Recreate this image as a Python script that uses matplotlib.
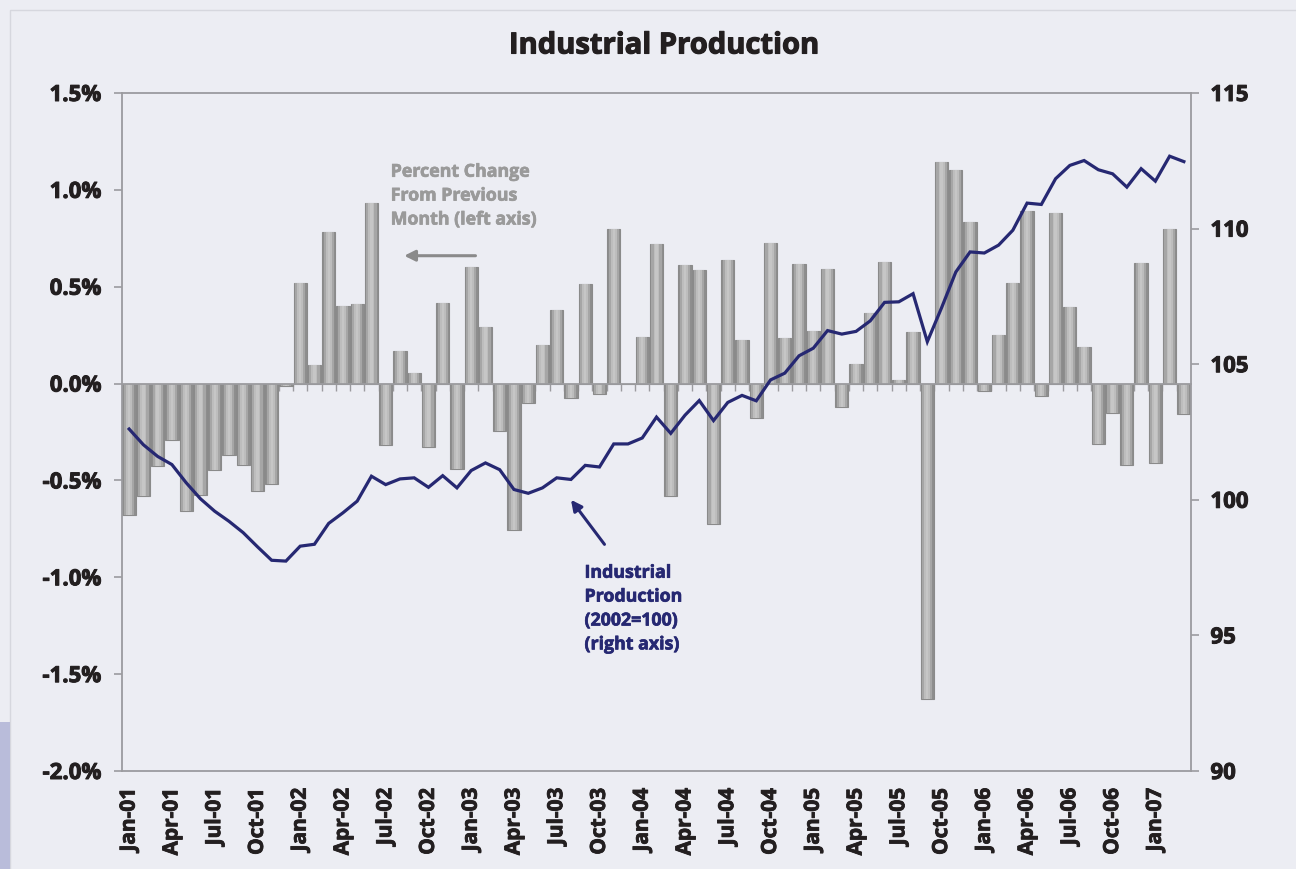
import matplotlib
matplotlib.use('Agg')
import matplotlib.pyplot as plt
import matplotlib.patheffects as pe
import numpy as np
import pandas as pd
from matplotlib.patches import Rectangle

# ---------------- data ----------------
months = pd.date_range('2001-01-01', periods=75, freq='MS')

pct_change = [
    -0.68, -0.58, -0.425, -0.29, -0.66, -0.575, -0.445, -0.37, -0.42, -0.557, -0.52, -0.01,   # 2001
    0.52, 0.098, 0.78, 0.40, 0.41, 0.93, -0.317, 0.167, 0.057, -0.326, 0.414, -0.44,        # 2002
    0.60, 0.294, -0.243, -0.755, -0.10, 0.20, 0.38, -0.072, 0.514, -0.055, 0.80, 0.0,       # 2003
    0.24, 0.722, -0.579, 0.611, 0.587, -0.723, 0.64, 0.224, -0.177, 0.727, 0.234, 0.619,    # 2004
    0.272, 0.594, -0.122, 0.10, 0.365, 0.628, 0.02, 0.265, -1.627, 1.145, 1.104, 0.832,     # 2005
    -0.04, 0.252, 0.52, 0.89, -0.065, 0.881, 0.395, 0.188, -0.313, -0.154, -0.421, 0.625,   # 2006
    -0.411, 0.796, -0.159,                                                                  # 2007
]

ip_index = [
    102.61, 102.03, 101.60, 101.30, 100.63, 100.04, 99.58, 99.21, 98.79, 98.27, 97.77, 97.74,
    98.29, 98.36, 99.13, 99.52, 99.95, 100.87, 100.56, 100.77, 100.81, 100.46, 100.89, 100.44,
    101.08, 101.36, 101.11, 100.38, 100.24, 100.44, 100.81, 100.75, 101.27, 101.21, 102.06, 102.06,
    102.28, 103.05, 102.45, 103.12, 103.66, 102.92, 103.59, 103.85, 103.65, 104.42, 104.67, 105.31,
    105.59, 106.24, 106.11, 106.21, 106.60, 107.28, 107.30, 107.60, 105.83, 107.08, 108.40, 109.14,
    109.10, 109.39, 109.94, 110.94, 110.89, 111.84, 112.33, 112.51, 112.17, 112.02, 111.53, 112.21,
    111.75, 112.67, 112.47,
]

tick_labels = ['Jan-01', 'Apr-01', 'Jul-01', 'Oct-01', 'Jan-02', 'Apr-02', 'Jul-02', 'Oct-02',
               'Jan-03', 'Apr-03', 'Jul-03', 'Oct-03', 'Jan-04', 'Apr-04', 'Jul-04', 'Oct-04',
               'Jan-05', 'Apr-05', 'Jul-05', 'Oct-05', 'Jan-06', 'Apr-06', 'Jul-06', 'Oct-06',
               'Jan-07']
tick_step = 3

left_ticks = [-2.0, -1.5, -1.0, -0.5, 0.0, 0.5, 1.0, 1.5]
right_ticks = [90, 95, 100, 105, 110, 115]

# ---------------- style ----------------
FONT = 'Open Sans'
BG = '#ECEDF3'
SPINE = '#9B9B9F'
TXT = '#231F20'
NAVY = '#262872'
GRAY_TXT = '#9A9A9A'

plt.rcParams['font.family'] = [FONT, 'DejaVu Sans']
plt.rcParams['font.weight'] = 'bold'


def heavy(color, w=0.7):
    return [pe.withStroke(linewidth=w, foreground=color)]


fig = plt.figure(figsize=(12.96, 8.69), dpi=100, facecolor=BG)
# faint frame and side block
fig.patches.append(Rectangle((10 / 1296, -0.01), 1.1, (869 - 10) / 869 + 0.01,
                             transform=fig.transFigure, fill=False,
                             edgecolor='#D6D7DE', linewidth=1.0, zorder=0))
fig.patches.append(Rectangle((0, 0), 10 / 1296, (869 - 722) / 869,
                             transform=fig.transFigure, facecolor='#B9BCDA',
                             edgecolor='none', zorder=0))

ax = fig.add_axes([122 / 1296, 1 - 771 / 869, (1191 - 122) / 1296, (771 - 93) / 869])
ax.set_facecolor(BG)

x = np.arange(len(months))
vals = np.array(pct_change)

# cylinder-like shaded bars: layered widths
ax.bar(x, vals, width=0.93, color='#8E8E8E', edgecolor='#8A8A8A', linewidth=0.8, zorder=2)
ax.bar(x, vals, width=0.72, color='#A6A6A6', linewidth=0, zorder=2.1)
ax.bar(x, vals, width=0.42, color='#BDBDBD', linewidth=0, zorder=2.2)
ax.bar(x, vals, width=0.16, color='#C6C6C6', linewidth=0, zorder=2.3)

ax.set_xlim(-0.5, len(months) - 0.5)
ax.set_ylim(left_ticks[0], left_ticks[-1])
ax.set_yticks(left_ticks)
ax.set_yticklabels([f'{v:.1f}%' for v in left_ticks])

for s in ['left', 'top', 'right']:
    ax.spines[s].set_color(SPINE)
    ax.spines[s].set_linewidth(1.3)
ax.spines['bottom'].set_position(('data', 0))
ax.spines['bottom'].set_color(SPINE)
ax.spines['bottom'].set_linewidth(1.3)
ax.spines['bottom'].set_zorder(3)

# month boundary ticks on the zero line
ax.set_xticks(np.arange(0.5, len(months) - 0.5, 1.0))
ax.tick_params(axis='x', direction='out', length=5, width=1.0, color=SPINE,
               labelbottom=False)
ax.tick_params(axis='y', direction='out', length=6, width=1.2, color=SPINE,
               labelsize=16, labelcolor=TXT, pad=9)
for t in ax.get_yticklabels():
    t.set_path_effects(heavy(TXT))

# bottom category labels (on frame bottom)
sec = ax.secondary_xaxis('bottom')
sec.spines['bottom'].set_color(SPINE)
sec.spines['bottom'].set_linewidth(1.3)
label_pos = x[::tick_step][:len(tick_labels)]
sec.set_xticks(label_pos)
sec.set_xticklabels(tick_labels, rotation=90, fontsize=15, color=TXT, fontweight='bold')
sec.tick_params(axis='x', length=0, pad=12)
for t in sec.get_xticklabels():
    t.set_path_effects(heavy(TXT, 0.6))

# right axis line
ax2 = ax.twinx()
ax2.plot(x, ip_index, color=NAVY, linewidth=2.3, solid_joinstyle='miter', zorder=5)
ax2.set_ylim(right_ticks[0], right_ticks[-1])
ax2.set_yticks(right_ticks)
ax2.set_yticklabels([str(v) for v in right_ticks])
ax2.tick_params(axis='y', direction='out', length=6, width=1.2, color=SPINE,
                labelsize=16, labelcolor=TXT, pad=8)
for t in ax2.get_yticklabels():
    t.set_path_effects(heavy(TXT))
for s in ax2.spines.values():
    s.set_visible(False)

# title
fig.text(664 / 1296, 1 - 46 / 869, 'Industrial Production', ha='center', va='center',
         fontsize=21, fontweight='bold', color=TXT, path_effects=heavy(TXT, 0.8))

# annotations
ax.text(18.35, 1.14, 'Percent Change\nFrom Previous\nMonth (left axis)', ha='left', va='top',
        fontsize=12.8, fontweight='bold', color=GRAY_TXT, linespacing=1.42, zorder=6,
        path_effects=heavy(GRAY_TXT, 0.5))
ax.annotate('', xy=(19.3, 0.66), xytext=(24.3, 0.66),
            arrowprops=dict(arrowstyle='-|>', color='#8A8A8A', lw=2.2,
                            mutation_scale=16, shrinkA=0, shrinkB=0), zorder=6)

ax.text(31.95, -0.93, 'Industrial\nProduction\n(2002=100)\n(right axis)', ha='left', va='top',
        fontsize=12.8, fontweight='bold', color=NAVY, linespacing=1.42, zorder=6,
        path_effects=heavy(NAVY, 0.5))
ax.annotate('', xy=(31.0, -0.60), xytext=(33.35, -0.83),
            arrowprops=dict(arrowstyle='-|>', color=NAVY, lw=2.2,
                            mutation_scale=16, shrinkA=0, shrinkB=0), zorder=6)

fig.savefig('out.png', dpi=100, facecolor=BG)
